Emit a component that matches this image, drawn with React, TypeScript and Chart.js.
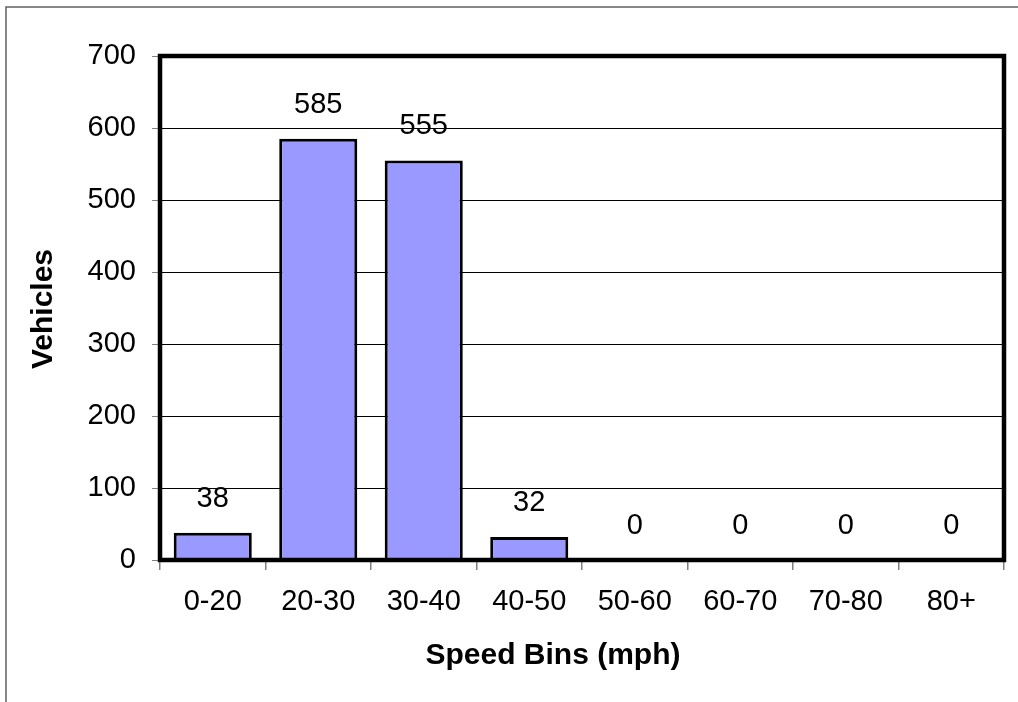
import React, { useEffect, useRef } from "react";
import { Chart, registerables } from "chart.js";

Chart.register(...registerables);

const categories = ["0-20", "20-30", "30-40", "40-50", "50-60", "60-70", "70-80", "80+"];
const vehicles = [38, 585, 555, 32, 0, 0, 0, 0];
const yTicks = [0, 100, 200, 300, 400, 500, 600, 700];
const xTitle = "Speed Bins (mph)";
const yTitle = "Vehicles";

const FONT = "'Liberation Sans', Arial, Helvetica, sans-serif";

const W = 1018;
const H = 702;
const AREA_LEFT = 160;
const AREA_TOP = 56;
const AREA_RIGHT = 1004;
const AREA_BOTTOM = 560;

export default function App() {
  const ref = useRef<HTMLCanvasElement | null>(null);

  useEffect(() => {
    const canvas = ref.current;
    if (!canvas) return;

    const framePlugin = {
      id: "frame",
      beforeDraw(chart: any) {
        const ctx = chart.ctx;
        ctx.save();
        ctx.fillStyle = "#ffffff";
        ctx.fillRect(0, 0, chart.width, chart.height);
        ctx.strokeStyle = "#606060";
        ctx.lineWidth = 1.5;
        ctx.beginPath();
        ctx.moveTo(6, H);
        ctx.lineTo(6, 7);
        ctx.lineTo(W, 7);
        ctx.stroke();
        ctx.restore();
      },
      afterDatasetsDraw(chart: any) {
        const ctx = chart.ctx;
        const a = chart.chartArea;
        ctx.save();
        // data labels
        const meta = chart.getDatasetMeta(0);
        ctx.fillStyle = "#000";
        ctx.font = `29px ${FONT}`;
        ctx.textAlign = "center";
        ctx.textBaseline = "middle";
        meta.data.forEach((el: any, i: number) => {
          ctx.fillText(String(vehicles[i]), el.x, el.y - 34);
        });
        // plot box
        ctx.strokeStyle = "#000";
        ctx.lineWidth = 4.5;
        ctx.strokeRect(a.left, a.top, a.right - a.left, a.bottom - a.top);
        // axis titles
        ctx.font = `bold 30px ${FONT}`;
        ctx.fillText(xTitle, 553, 656);
        ctx.translate(44, 309);
        ctx.rotate(-Math.PI / 2);
        ctx.fillText(yTitle, 0, 0);
        ctx.restore();
      },
    };

    const chart = new Chart(canvas, {
      type: "bar",
      data: {
        labels: categories,
        datasets: [
          {
            data: vehicles,
            backgroundColor: "#9999ff",
            borderColor: "#000000",
            borderWidth: 3,
            barPercentage: 0.74,
            categoryPercentage: 1,
          },
        ],
      },
      options: {
        responsive: false,
        animation: false,
        devicePixelRatio: 1,
        layout: { padding: { top: AREA_TOP, right: W - AREA_RIGHT, left: 0, bottom: 0 } },
        plugins: {
          legend: { display: false },
          tooltip: { enabled: false },
          title: { display: false },
        },
        scales: {
          x: {
            type: "category",
            afterFit(scale: any) {
              scale.height = H - AREA_BOTTOM;
            },
            grid: {
              display: true,
              drawOnChartArea: false,
              offset: true,
              tickLength: 10,
              tickColor: "#808080",
              lineWidth: 1.5,
            },
            border: { display: false },
            ticks: {
              color: "#000",
              font: { family: FONT, size: 29 },
              padding: 15,
              maxRotation: 0,
              autoSkip: false,
            },
            title: { display: false },
          },
          y: {
            min: 0,
            max: 700,
            afterFit(scale: any) {
              scale.width = AREA_LEFT;
            },
            afterBuildTicks(scale: any) {
              scale.ticks = yTicks.map((v) => ({ value: v }));
            },
            grid: {
              display: true,
              color: "#000",
              lineWidth: 1,
              tickLength: 8,
              tickColor: "#808080",
            },
            border: { display: false },
            ticks: {
              color: "#000",
              font: { family: FONT, size: 29 },
              padding: 16,
            },
            title: { display: false },
          },
        },
      },
      plugins: [framePlugin],
    } as any);

    return () => {
      chart.destroy();
    };
  }, []);

  return (
    <div style={{ position: "fixed", left: 0, top: 0, width: W, height: H, background: "#fff" }}>
      <canvas ref={ref} width={W} height={H} style={{ display: "block", width: W, height: H }} />
    </div>
  );
}
